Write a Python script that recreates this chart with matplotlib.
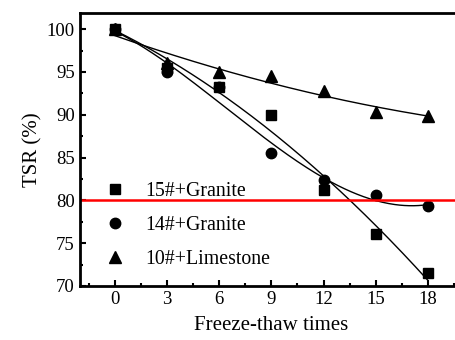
import numpy as np
import matplotlib
matplotlib.use("Agg")
import matplotlib.pyplot as plt
from matplotlib.ticker import MultipleLocator

plt.rcParams['font.family'] = ['Liberation Serif', 'DejaVu Serif']

cycles = [0, 3, 6, 9, 12, 15, 18]
granite15 = [100, 95.5, 93.3, 90.0, 81.2, 76.1, 71.5]
granite14 = [100, 95.0, 93.3, 85.5, 82.4, 80.6, 79.3]
limestone10 = [100, 96.0, 95.0, 94.5, 92.8, 90.3, 89.9]
labels = ['15#+Granite', '14#+Granite', '10#+Limestone']
xticks = [0, 3, 6, 9, 12, 15, 18]
yticks = [70, 75, 80, 85, 90, 95, 100]

fig = plt.figure(figsize=(4.56, 3.40), dpi=100)
ax = fig.add_axes([0.175, 0.159, 0.84, 0.803])

series = [(granite15, 's', 2, 7), (granite14, 'o', 3, 7.5), (limestone10, '^', 2, 8.5)]
xs = np.linspace(0, 18, 200)
for (vals, mk, deg, ms), lab in zip(series, labels):
    ax.plot(cycles, vals, linestyle='none', marker=mk, color='black',
            markersize=ms, label=lab)
    coef = np.polyfit(cycles, vals, deg)
    ax.plot(xs, np.polyval(coef, xs), color='black', lw=1.0)

ax.axhline(80, color='#ff0000', lw=1.8)

ax.set_xlim(-2, 20)
ax.set_ylim(70, 101.9)
ax.set_xticks(xticks)
ax.set_yticks(yticks)
ax.xaxis.set_minor_locator(MultipleLocator(1.5))
ax.yaxis.set_minor_locator(MultipleLocator(2.5))
ax.tick_params(which='both', direction='in', labelsize=13.5, width=1.5)
ax.tick_params(which='major', length=4)
ax.tick_params(which='minor', length=2.5)
for sp in ax.spines.values():
    sp.set_linewidth(2)
ax.spines['right'].set_visible(False)

ax.set_xlabel('Freeze-thaw times', fontsize=15, labelpad=6)
ax.set_ylabel('TSR (%)', fontsize=15, labelpad=3)

ax.legend(loc='lower left', bbox_to_anchor=(0.014, -0.002), frameon=False,
          fontsize=14.3, handletextpad=0.95, labelspacing=0.75, handlelength=1.2)

fig.savefig('out.png', dpi=100)
